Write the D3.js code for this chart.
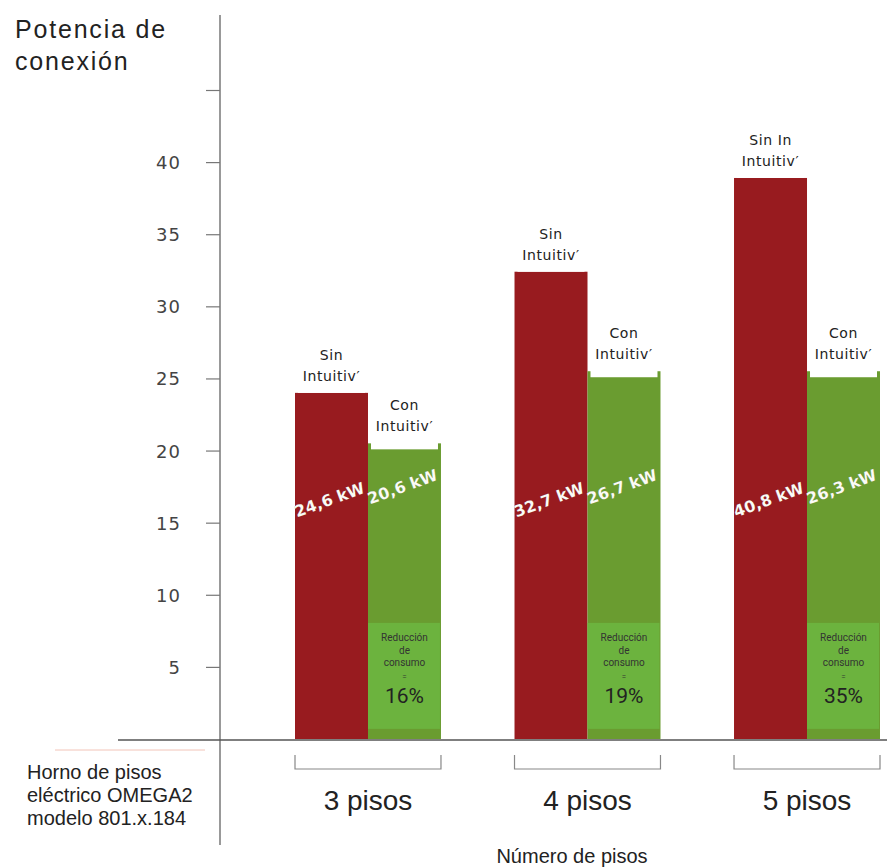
<!DOCTYPE html>
<meta charset="utf-8">
<title>Potencia de conexión</title>
<style>
    body { margin: 0; background: #fff; }
    text { font-family: "Liberation Sans", Arial, sans-serif; }
</style>
<body>
<script src="https://d3js.org/d3.v7.min.js"></script>
<script>

    var categories = ["3 pisos", "4 pisos", "5 pisos"],
        sinValues = [24.0, 32.4, 38.9],
        conValues = [20.5, 25.5, 25.5],
        sinLabels = ["24,6 kW", "32,7 kW", "40,8 kW"],
        conLabels = ["20,6 kW", "26,7 kW", "26,3 kW"],
        sinTitles = [["Sin", "Intuitiv′"], ["Sin", "Intuitiv′"], ["Sin In", "Intuitiv′"]],
        conTitles = [["Con", "Intuitiv′"], ["Con", "Intuitiv′"], ["Con", "Intuitiv′"]],
        reductions = ["16%", "19%", "35%"],
        yTicks = [5, 10, 15, 20, 25, 30, 35, 40, 45];

    var w = 887, h = 868,
        red = "#981b1f",
        green = "#6a9c30",
        greenBox = "#6cb33e";

    var svg = d3.select("body").append("svg")
        .attr("width", w)
        .attr("height", h);

    var y = d3.scaleLinear().domain([0, 45]).range([739, 90]);

    var x = d3.scaleBand().domain(categories)
        .range([295, 880])
        .paddingInner(0.335)
        .paddingOuter(0);

    var xs = d3.scaleBand().domain(["sin", "con"])
        .range([0, x.bandwidth()]);

    // y axis
    var axis = svg.append("g")
        .attr("transform", "translate(220,0)")
        .call(d3.axisLeft(y)
            .tickValues(yTicks)
            .tickSize(14)
            .tickPadding(25)
            .tickFormat(function(d) { return d === 45 ? "" : d; }));
    axis.select(".domain").remove();
    axis.selectAll(".tick line").attr("stroke", "#777").attr("stroke-width", 1.2);
    axis.selectAll(".tick text")
        .attr("fill", "#444")
        .attr("dy", "0.36em")
        .style("font-family", "'DejaVu Sans', Verdana, sans-serif")
        .style("font-size", "18px")
        .style("letter-spacing", "1px");

    svg.append("line")
        .attr("x1", 220).attr("x2", 220)
        .attr("y1", 15).attr("y2", 845)
        .attr("stroke", "#777").attr("stroke-width", 1.5);

    var groups = svg.selectAll("g.grp")
        .data(categories)
        .enter().append("g")
        .attr("class", "grp")
        .attr("transform", function(d) { return "translate(" + x(d) + ",0)"; });

    // red bars
    groups.append("rect")
        .attr("x", xs("sin"))
        .attr("width", xs.bandwidth())
        .attr("y", function(d, i) { return y(sinValues[i]); })
        .attr("height", function(d, i) { return y(0) - y(sinValues[i]); })
        .attr("fill", red);

    // green bars
    groups.append("rect")
        .attr("x", xs("con"))
        .attr("width", xs.bandwidth())
        .attr("y", function(d, i) { return y(conValues[i]); })
        .attr("height", function(d, i) { return y(0) - y(conValues[i]); })
        .attr("fill", green);

    // reduction boxes
    groups.append("rect")
        .attr("x", xs("con"))
        .attr("width", xs.bandwidth() - 1)
        .attr("y", y(8.05))
        .attr("height", y(0.7) - y(8.05))
        .attr("fill", greenBox);

    var boxText = groups.append("text")
        .attr("text-anchor", "middle")
        .attr("fill", "#333")
        .style("font-family", "Roboto, sans-serif");
    [["Reducción", 0], ["de", 1], ["consumo", 2], ["=", 3]].forEach(function(p) {
        boxText.append("tspan")
            .attr("x", xs("con") + xs.bandwidth() / 2)
            .attr("y", 641 + p[1] * 12.5)
            .style("font-size", p[0] === "=" ? "8px" : "10px")
            .text(p[0]);
    });
    groups.append("text")
        .attr("x", xs("con") + xs.bandwidth() / 2)
        .attr("y", 703)
        .attr("text-anchor", "middle")
        .attr("fill", "#222")
        .style("font-family", "Roboto, sans-serif")
        .style("font-size", "21px")
        .text(function(d, i) { return reductions[i]; });

    // rotated values
    function valueLabel(key, labels, yy) {
        groups.append("text")
            .attr("transform", "translate(" + (xs(key) + xs.bandwidth() / 2) + "," + yy + ") rotate(-20)")
            .attr("text-anchor", "middle")
            .attr("fill", "#fbfbf6")
            .attr("stroke", "rgba(0,0,0,0.15)")
            .attr("stroke-width", 0.5)
            .style("font-family", "'DejaVu Sans', Verdana, sans-serif")
            .style("font-weight", "bold")
            .style("font-size", "16px")
            .text(function(d, i) { return labels[i]; });
    }
    valueLabel("sin", sinLabels, 505);
    valueLabel("con", conLabels, 492);

    // titles above bars
    function barTitle(key, titles, values) {
        groups.each(function(d, i) {
            var g = d3.select(this),
                top = y(values[i]);
            g.append("rect")
                .attr("x", xs(key) + 3)
                .attr("width", xs.bandwidth() - 6)
                .attr("y", top - 48)
                .attr("height", 48 + (key === "con" ? 6 : 0))
                .attr("fill", "#fff");
            titles[i].forEach(function(t, j) {
                g.append("text")
                    .attr("x", xs(key) + xs.bandwidth() / 2)
                    .attr("y", top - 33 + j * 21)
                    .attr("text-anchor", "middle")
                    .attr("fill", "#222")
                    .style("font-family", "'DejaVu Sans', Verdana, sans-serif")
                    .style("font-size", "14px")
                    .style("letter-spacing", "0.6px")
                    .text(t);
            });
        });
    }
    barTitle("sin", sinTitles, sinValues);
    barTitle("con", conTitles, conValues);

    // baseline
    svg.append("line")
        .attr("x1", 118).attr("x2", w)
        .attr("y1", y(0) + 1).attr("y2", y(0) + 1)
        .attr("stroke", "#555").attr("stroke-width", 1.5);
    svg.append("line")
        .attr("x1", 55).attr("x2", 205)
        .attr("y1", 750).attr("y2", 750)
        .attr("stroke", "#f2c4b8").attr("stroke-width", 1);

    // brackets and category labels
    groups.append("path")
        .attr("d", "M0,755V769H" + x.bandwidth() + "V755")
        .attr("fill", "none")
        .attr("stroke", "#888")
        .attr("stroke-width", 1.2);
    groups.append("text")
        .attr("x", x.bandwidth() / 2)
        .attr("y", 810)
        .attr("text-anchor", "middle")
        .attr("fill", "#222")
        .style("font-size", "28px")
        .text(function(d) { return d; });

    svg.append("text")
        .attr("x", 572).attr("y", 863)
        .attr("text-anchor", "middle")
        .attr("fill", "#222")
        .style("font-size", "20px")
        .text("Número de pisos");

    // y title
    var yt = svg.append("text")
        .attr("fill", "#222")
        .style("font-size", "25px")
        .style("letter-spacing", "1.8px");
    ["Potencia de", "conexión"].forEach(function(t, i) {
        yt.append("tspan").attr("x", 15).attr("y", 38 + i * 32).text(t);
    });

    // note
    var note = svg.append("text").attr("fill", "#222").style("font-size", "20px");
    ["Horno de pisos", "eléctrico OMEGA2", "modelo 801.x.184"].forEach(function(t, i) {
        note.append("tspan").attr("x", 27).attr("y", 779 + i * 23).text(t);
    });

</script>
</body>
